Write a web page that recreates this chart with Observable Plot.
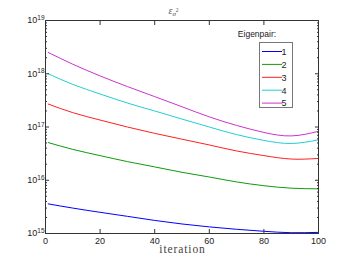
<!DOCTYPE html>
<html><head><meta charset="utf-8">
<script src="https://cdn.jsdelivr.net/npm/d3@7"></script>
<script src="https://cdn.jsdelivr.net/npm/@observablehq/plot@0.6"></script>
<style>body{margin:0;background:#fff}</style>
</head><body><div id="chart"></div>
<script>
// ---- data ----
const iterations = [1, 10, 20, 30, 40, 50, 60, 70, 80, 90, 100];
const eig1 = [3.6e15, 3.0e15, 2.5e15, 2.1e15, 1.76e15, 1.51e15, 1.33e15, 1.2e15, 1.1e15, 1.035e15, 1.05e15];
const eig2 = [5.1e16, 3.8e16, 2.9e16, 2.24e16, 1.78e16, 1.41e16, 1.15e16, 9.3e15, 7.9e15, 7.1e15, 6.9e15];
const eig3 = [2.7e17, 1.86e17, 1.35e17, 1.0e17, 7.6e16, 5.9e16, 4.6e16, 3.55e16, 2.9e16, 2.5e16, 2.57e16];
const eig4 = [1.0e18, 6.3e17, 4.17e17, 2.82e17, 2.0e17, 1.41e17, 1.0e17, 7.2e16, 5.6e16, 4.9e16, 5.75e16];
const eig5 = [2.51e18, 1.51e18, 9.1e17, 5.75e17, 3.72e17, 2.4e17, 1.55e17, 1.07e17, 7.9e16, 6.8e16, 8.3e16];
const pairs = ["1", "2", "3", "4", "5"];
const colors = ["#0000ff", "#119911", "#ff2020", "#20d0d0", "#cc33cc"];
const xTicks = [0, 20, 40, 60, 80, 100];
const yMajor = [1e15, 1e16, 1e17, 1e18, 1e19];
const yMinor = d3.range(15, 19).flatMap(e => d3.range(2, 10).map(m => m * 10 ** e));
const titleMain = "ε";
const titleSub = "σ";
const titleSup = "2";
const xLabel = "iteration";
const legendTitle = "Eigenpair:";

const allSeries = [eig1, eig2, eig3, eig4, eig5];
const data = allSeries.flatMap((vals, i) => vals.map((v, j) => ({iteration: iterations[j], value: v, pair: pairs[i]})));

const W = 352, H = 263, mL = 45, mR = 34, mT = 20, mB = 30;
const axisColor = "#333";

const chart = Plot.plot({
  width: W, height: H,
  marginLeft: mL, marginRight: mR, marginTop: mT, marginBottom: mB,
  style: {fontFamily: "'Liberation Sans', Arial, sans-serif", fontSize: "9px", background: "#fff", color: "#222", overflow: "visible"},
  x: {domain: [0, 100]},
  y: {type: "log", domain: [1e15, 1e19]},
  color: {domain: pairs, range: colors},
  marks: [
    Plot.lineY(data, {x: "iteration", y: "value", stroke: "pair", curve: "natural", strokeWidth: 1}),
    Plot.frame({stroke: axisColor, strokeWidth: 1}),
    // y labels
    Plot.axisY(yMajor, {anchor: "left", tickSize: 0, tickPadding: 1, label: null, tickFormat: d => String(Math.round(Math.log10(d)))}),
    // y ticks (inward), left & right
    Plot.axisY(yMajor, {anchor: "left", tickSize: 4, dx: 4, fill: "none", label: null, stroke: axisColor}),
    Plot.axisY(yMinor, {anchor: "left", tickSize: 2, dx: 2, fill: "none", label: null, stroke: axisColor}),
    Plot.axisY(yMajor, {anchor: "right", tickSize: 4, dx: -4, fill: "none", label: null, stroke: axisColor}),
    Plot.axisY(yMinor, {anchor: "right", tickSize: 2, dx: -2, fill: "none", label: null, stroke: axisColor}),
    // x labels and ticks
    Plot.axisX(xTicks, {anchor: "bottom", tickSize: 0, tickPadding: 4, label: null}),
    Plot.axisX(xTicks, {anchor: "bottom", tickSize: 4, dy: -4, fill: "none", label: null, stroke: axisColor}),
    Plot.axisX(xTicks, {anchor: "top", tickSize: 4, dy: 4, fill: "none", label: null, stroke: axisColor})
  ]
});
document.getElementById("chart").appendChild(chart);

const svg = d3.select(chart);
// superscript exponents on y tick labels
svg.selectAll('g[aria-label="y-axis tick label"] text').each(function() {
  const t = d3.select(this);
  const n = t.text();
  t.text("10");
  t.append("tspan").attr("dy", "-0.5em").attr("font-size", "6.5px").text(n);
});

// title
const tt = svg.append("text")
  .attr("x", 173.5).attr("y", 14)
  .attr("font-family", "'Liberation Serif', 'DejaVu Serif', serif")
  .attr("font-style", "italic").attr("font-size", "10px").attr("fill", "#555");
tt.append("tspan").text(titleMain);
tt.append("tspan").attr("dy", 2).attr("font-size", "7px").text(titleSub);
tt.append("tspan").attr("dy", -4).attr("font-size", "5.5px").attr("font-style", "normal").text(titleSup);

// x label
svg.append("text")
  .attr("x", mL + (W - mL - mR) / 2 + 1).attr("y", 253)
  .attr("text-anchor", "middle")
  .attr("font-family", "'Liberation Serif', 'DejaVu Serif', serif")
  .attr("font-size", "11.5px").attr("letter-spacing", "0.9px").attr("fill", "#444")
  .text(xLabel);

// legend
const lg = svg.append("g").attr("font-family", "'Liberation Sans', Arial, sans-serif");
lg.append("text").attr("x", 257).attr("y", 37).attr("font-size", "8.5px").attr("fill", "#222").text(legendTitle);
lg.append("rect").attr("x", 259.5).attr("y", 42.5).attr("width", 33).attr("height", 65)
  .attr("fill", "#fff").attr("stroke", "#777").attr("stroke-width", 1);
pairs.forEach((p, i) => {
  const y = 51.5 + i * 12.9;
  lg.append("line").attr("x1", 262).attr("x2", 282).attr("y1", y).attr("y2", y)
    .attr("stroke", colors[i]).attr("stroke-width", 1);
  lg.append("text").attr("x", 284).attr("y", y + 3.3).attr("font-size", "9px").attr("fill", "#222").text(p);
});
</script>
</body></html>
